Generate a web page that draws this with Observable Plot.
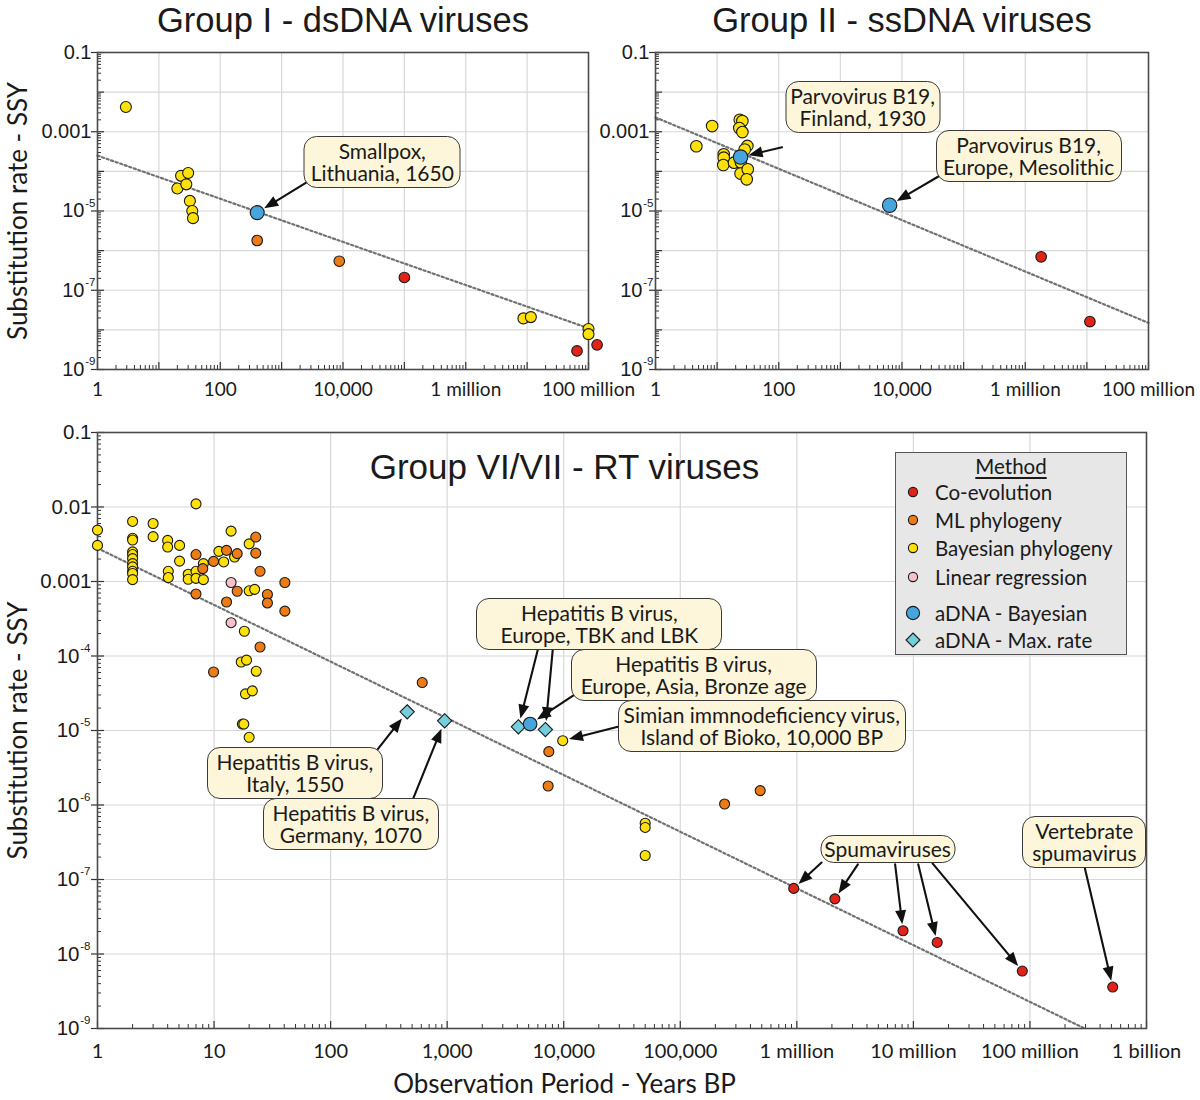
<!DOCTYPE html>
<html>
<head>
<meta charset="utf-8">
<script src="https://cdn.jsdelivr.net/npm/d3@7"></script>
<script src="https://cdn.jsdelivr.net/npm/@observablehq/plot@0.6"></script>
<style>
  body { margin: 0; background: #fff; }
  #wrap { position: relative; width: 1200px; height: 1100px; overflow: hidden; font-family: Lato, "Open Sans", sans-serif; color: #1a1a1a; background: #fff; }
  .panel { position: absolute; }
  .panel svg { overflow: visible; display: block; }
  .note { position: absolute; transform: translate(-50%, -50%); background: #fdf6da; border: 1.3px solid #3a3a3a; border-radius: 13px;
          box-sizing: border-box; display: flex; align-items: center; justify-content: center;
          font-family: Lato, sans-serif; font-size: 21px; line-height: 22px; text-align: center; white-space: pre; color: #1a1a1a; }
  #legend { position: absolute; left: 895px; top: 452px; width: 232px; height: 203px; box-sizing: border-box; background: #e7e7e7; border: 1.5px solid #555; }
  #legend .row { position: absolute; left: 0; height: 22px; line-height: 22px; font-size: 20.5px; font-family: Lato, sans-serif; white-space: nowrap; }
  #legend .ttl { position: absolute; left: 0; width: 100%; text-align: center; font-size: 20.5px; line-height: 22px; text-decoration: underline; text-underline-offset: 3px; }
  #legend svg { position: absolute; left: 8px; top: 2px; }
  #legend .lbl { position: absolute; left: 39px; top: 0; }
</style>
</head>
<body>
<div id="wrap"></div>
<script>
// ---------------- data ----------------
const methodColors = { co: "#e02419", ml: "#ee7c16", bayes: "#fee10a", linreg: "#f8c0cb", adnaBayes: "#45a5dc", adnaMax: "#75cedb" };
const legendKeys = ["co", "ml", "bayes", "linreg", "adnaBayes", "adnaMax"];
const legendLabels = ["Co-evolution", "ML phylogeny", "Bayesian phylogeny", "Linear regression", "aDNA - Bayesian", "aDNA - Max. rate"];

// Group I - dsDNA viruses
const g1Period = [2.9, 23, 30, 20, 28, 32, 35, 36, 8.7e6, 1.15e7, 1.0e8, 1.0e8, 400, 8700, 1.0e5, 6.5e7, 1.38e8, 400];
const g1Rate   = [4.2e-3, 7.7e-5, 9.1e-5, 3.7e-5, 4.7e-5, 1.8e-5, 1.0e-5, 6.6e-6, 1.95e-8, 2.1e-8, 1.05e-8, 7.8e-9, 1.8e-6, 5.4e-7, 2.1e-7, 2.95e-9, 4.2e-9, 9.1e-6];
const g1Method = ["bayes","bayes","bayes","bayes","bayes","bayes","bayes","bayes","bayes","bayes","bayes","bayes","ml","ml","co","co","co","adnaBayes"];
const g1TrendPeriod = [1, 1e8];
const g1TrendRate = [2.5e-4, 1.1e-8];
const g1NoteText = ["Smallpox,\nLithuania, 1650"];
const g1NotePeriod = [44460];
const g1NoteRate = [1.71e-4];
const g1ArrowFromPeriod = [2630];
const g1ArrowFromRate = [5.41e-5];
const g1ArrowToPeriod = [400];
const g1ArrowToRate = [9.1e-6];

// Group II - ssDNA viruses
const g2Period = [4.6, 8.3, 12.8, 12.8, 12.6, 18.8, 23.3, 25.7, 22.9, 25.7, 30.9, 28, 24.3, 24, 31.4, 30.2, 1.81e6, 1.12e7, 24, 6300];
const g2Rate   = [4.3e-4, 1.39e-3, 2.7e-4, 2.22e-4, 1.45e-4, 1.66e-4, 2.01e-3, 1.86e-3, 1.24e-3, 9.8e-4, 4.4e-4, 3.55e-4, 1.7e-4, 8.8e-5, 1.13e-4, 6.3e-5, 6.98e-7, 1.62e-8, 2.3e-4, 1.4e-5];
const g2Method = ["bayes","bayes","bayes","bayes","bayes","bayes","bayes","bayes","bayes","bayes","bayes","bayes","bayes","bayes","bayes","bayes","co","co","adnaBayes","adnaBayes"];
const g2TrendPeriod = [1, 1e8];
const g2TrendRate = [2.3e-3, 1.5e-8];
const g2NoteText = ["Parvovirus B19,\nFinland, 1930", "Parvovirus B19,\nEurope, Mesolithic"];
const g2NotePeriod = [2339, 1.156e6];
const g2NoteRate = [4.0e-3, 2.31e-4];
const g2ArrowFromPeriod = [113, 39540];
const g2ArrowFromRate = [4.05e-4, 7.53e-5];
const g2ArrowToPeriod = [24, 6300];
const g2ArrowToRate = [2.3e-4, 1.4e-5];

// Group VI/VII - RT viruses
const rtPeriod = [
  1, 1, 2, 2, 2, 2, 2, 2, 2, 2, 2, 2, 2, 3, 3, 4, 4, 4.05, 4.05, 5.06, 5.06, 6, 6, 7, 7, 7, 8.1, 8.1,
  11, 12.1, 14, 15, 18.2, 17.1, 19, 18.6, 21.3, 17.5, 18, 20, 20, 20, 22.3, 23, 9800, 50000, 50000, 50000,
  7, 7, 8, 9.9, 9.9, 12.8, 12.8, 15.8, 15.8, 22.8, 22.8, 24.8, 24.8, 28.7, 28.7, 40.5, 40.5, 611, 7450, 7350, 2.4e5, 4.85e5,
  14, 14,
  9.4e5, 2.12e6, 8.15e6, 1.6e7, 8.6e7, 5.13e8,
  454, 951, 4080, 6960,
  5150
];
const rtRate = [
  4.9e-3, 3.05e-3, 6.4e-3, 3.8e-3, 3.6e-3, 2.5e-3, 2.3e-3, 2.03e-3, 1.74e-3, 1.57e-3, 1.37e-3, 1.28e-3, 1.06e-3, 6.0e-3, 4.0e-3, 3.56e-3, 2.9e-3, 1.37e-3, 1.13e-3, 3.05e-3, 1.88e-3, 1.25e-3, 1.07e-3, 0.011, 1.37e-3, 1.1e-3, 1.74e-3, 1.06e-3,
  2.54e-3, 1.83e-3, 4.75e-3, 2.13e-3, 2.15e-4, 8.3e-5, 8.8e-5, 3.1e-5, 3.4e-5, 1.22e-5, 1.22e-5, 8.1e-6, 3.2e-3, 7.5e-4, 7.85e-4, 6.25e-5, 7.3e-6, 5.7e-7, 5.0e-7, 2.1e-7,
  2.3e-3, 6.8e-4, 1.49e-3, 1.86e-3, 6.1e-5, 2.62e-3, 5.3e-4, 2.37e-3, 7.4e-4, 3.95e-3, 2.4e-3, 1.37e-3, 1.32e-4, 6.7e-4, 5.15e-4, 9.7e-4, 4.0e-4, 4.4e-5, 5.2e-6, 1.8e-6, 1.03e-6, 1.56e-6,
  9.7e-4, 2.8e-4,
  7.6e-8, 5.5e-8, 2.05e-8, 1.43e-8, 5.9e-9, 3.6e-9,
  1.78e-5, 1.35e-5, 1.12e-5, 1.03e-5,
  1.22e-5
];
const rtMethod = [
  ...Array(48).fill("bayes"),
  ...Array(22).fill("ml"),
  "linreg", "linreg",
  "co", "co", "co", "co", "co", "co",
  "adnaMax", "adnaMax", "adnaMax", "adnaMax",
  "adnaBayes"
];
const rtTrendPeriod = [1, 2.95e8];
const rtTrendRate = [2.8e-3, 1e-9];
const rtNoteText = [
  "Hepatitis B virus,\nItaly, 1550",
  "Hepatitis B virus,\nGermany, 1070",
  "Hepatitis B virus,\nEurope, TBK and LBK",
  "Hepatitis B virus,\nEurope, Asia, Bronze age",
  "Simian immnodeficiency virus,\nIsland of Bioko, 10,000 BP",
  "Spumaviruses",
  "Vertebrate\nspumavirus"
];
const rtNotePeriod = [49.9, 150.7, 20420, 1.315e5, 5.05e5, 6.07e6, 2.96e8];
const rtNoteRate = [2.62e-6, 5.48e-7, 2.65e-4, 5.44e-5, 1.13e-5, 2.56e-7, 3.11e-7];
const rtArrowFromPeriod = [253, 512, 5984, 8054, 12220, 29170, 1.63e6, 3.34e6, 6.97e6, 1.1e7, 1.46e7, 2.96e8];
const rtArrowFromRate   = [5.58e-6, 1.23e-6, 1.2e-4, 1.23e-4, 2.99e-5, 1.12e-5, 1.69e-7, 1.6e-7, 1.6e-7, 1.6e-7, 1.65e-7, 1.42e-7];
const rtArrowToPeriod   = [454, 951, 4080, 6960, 5150, 9800, 9.4e5, 2.12e6, 8.15e6, 1.6e7, 8.6e7, 5.13e8];
const rtArrowToRate     = [1.78e-5, 1.35e-5, 1.12e-5, 1.03e-5, 1.22e-5, 7.3e-6, 7.6e-8, 5.5e-8, 2.05e-8, 1.43e-8, 5.9e-9, 3.6e-9];

// tick labels
const topXTicks = [1, 100, 1e4, 1e6, 1e8];
const topXLabels = ["1", "100", "10,000", "1 million", "100 million"];
const topYPlain = [0.1, 0.001];
const topYPlainLabels = ["0.1", "0.001"];
const topYPow = [1e-5, 1e-7, 1e-9];
const topYPowExp = ["-5", "-7", "-9"];
const rtXTicks = [1, 10, 100, 1e3, 1e4, 1e5, 1e6, 1e7, 1e8, 1e9];
const rtXLabels = ["1", "10", "100", "1,000", "10,000", "100,000", "1 million", "10 million", "100 million", "1 billion"];
const rtYPlain = [0.1, 0.01, 0.001];
const rtYPlainLabels = ["0.1", "0.01", "0.001"];
const rtYPow = [1e-4, 1e-5, 1e-6, 1e-7, 1e-8, 1e-9];
const rtYPowExp = ["-4", "-5", "-6", "-7", "-8", "-9"];

// ---------------- helpers ----------------
const SANS = '"Liberation Sans", Arial, sans-serif';
const HUM = 'Lato, "Open Sans", sans-serif';
const headInset = { co: 6.5, ml: 6.5, bayes: 6.5, linreg: 6.5, adnaBayes: 8.2, adnaMax: 8.5 };
const drawOrder = ["bayes", "ml", "linreg", "co", "adnaMax", "adnaBayes"];
const HEAD_L = 14, HEAD_W = 5.5;

function decades(lo, hi) { const o = []; for (let e = lo; e <= hi; e++) o.push(Math.pow(10, e)); return o; }
function minors(lo, hi) { const o = []; for (let e = lo; e < hi; e++) for (let k = 2; k <= 9; k++) o.push(k * Math.pow(10, e)); return o; }
function headSymbol(inset, L = HEAD_L, w = HEAD_W) {
  return { draw(ctx) { ctx.moveTo(0, inset); ctx.lineTo(w, inset + L); ctx.lineTo(-w, inset + L); ctx.closePath(); } };
}

function buildPanel(p) {
  const xs = d3.scaleLog(p.xDomain, [p.ml, p.width - p.mr]);
  const ys = d3.scaleLog(p.yDomain, [p.height - p.mb, p.mt]);
  const pw = p.width - p.ml - p.mr, ph = p.height - p.mt - p.mb;
  const lx = [Math.round(Math.log10(p.xDomain[0])), Math.round(Math.log10(p.xDomain[1]))];
  const ly = [Math.round(Math.log10(p.yDomain[0])), Math.round(Math.log10(p.yDomain[1]))];
  const gridX = decades(lx[0] + 1, lx[1] - 1), gridY = decades(ly[0] + 1, ly[1] - 1);

  const rows = p.period.map((v, i) => ({ period: v, rate: p.rate[i], method: p.method[i] }));
  const trend = p.trendPeriod.map((v, i) => ({ period: v, rate: p.trendRate[i] }));
  const arrows = p.arrowFromPeriod.map((v, i) => {
    const a = { x1: v, y1: p.arrowFromRate[i], x2: p.arrowToPeriod[i], y2: p.arrowToRate[i] };
    const hit = rows.find(r => r.period === a.x2 && r.rate === a.y2);
    a.inset = headInset[hit ? hit.method : "co"];
    const dx = xs(a.x2) - xs(a.x1), dy = ys(a.y2) - ys(a.y1);
    a.angle = Math.atan2(dx, -dy) * 180 / Math.PI;
    return a;
  });

  const marks = [
    Plot.ruleX(gridX, { stroke: "#d8d8d8", strokeWidth: 1.2 }),
    Plot.ruleY(gridY, { stroke: "#d8d8d8", strokeWidth: 1.2 }),
    Plot.line(trend, { x: "period", y: "rate", stroke: "#727272", strokeWidth: 2.2, strokeDasharray: "2.2,2.6" }),
    Plot.tickY(minors(ly[0], ly[1]), { stroke: "#333", strokeWidth: 1, insetRight: pw - 4 }),
    Plot.tickY(decades(ly[0], ly[1]), { stroke: "#333", strokeWidth: 1.2, insetRight: pw - 7 }),
    Plot.tickY(p.yPlain.concat(p.yPow), { stroke: "#333", strokeWidth: 1.2, insetRight: pw - 6, dx: -6 }),
    Plot.tickX(minors(lx[0], lx[1]), { stroke: "#333", strokeWidth: 1, insetTop: ph - 4 }),
    Plot.tickX(decades(lx[0], lx[1]), { stroke: "#333", strokeWidth: 1.2, insetTop: ph - 7 }),
    Plot.frame({ stroke: "#4a4a4a", strokeWidth: 1.6 })
  ];
  const insets = [...new Set(arrows.map(a => a.inset))];
  for (const ins of insets) {
    const sub = arrows.filter(a => a.inset === ins);
    marks.push(Plot.arrow(sub, { x1: "x1", y1: "y1", x2: "x2", y2: "y2", stroke: "#111", strokeWidth: 2.1, headLength: 0, insetEnd: ins + HEAD_L - 2 }));
  }
  for (const m of drawOrder) {
    const sub = rows.filter(r => r.method === m);
    if (!sub.length) continue;
    marks.push(Plot.dot(sub, { x: "period", y: "rate", r: p.radius[m], fill: methodColors[m], stroke: "#1a1a1a", strokeWidth: 1.1,
      symbol: m === "adnaMax" ? "diamond2" : "circle" }));
  }
  for (const ins of insets) {
    const sub = arrows.filter(a => a.inset === ins);
    marks.push(Plot.dot(sub, { x: "x2", y: "y2", symbol: headSymbol(ins), rotate: "angle", fill: "#111", stroke: "none", r: 3 }));
  }
  marks.push(
    Plot.text(p.xTicks, { x: d => d, text: (d, i) => p.xLabels[i], frameAnchor: "bottom", lineAnchor: "top", dy: p.xLabelDy,
      fontSize: p.xFont, fontFamily: HUM, fill: "#1a1a1a" }),
    Plot.text(p.yPlain, { y: d => d, text: (d, i) => p.yPlainLabels[i], frameAnchor: "left", textAnchor: "end", dx: -6,
      fontSize: p.yFont, fontFamily: SANS, fill: "#1a1a1a" }),
    Plot.text(p.yPow, { y: d => d, text: d => "10", frameAnchor: "left", textAnchor: "end", dx: p.tenDx,
      fontSize: p.yFont, fontFamily: SANS, fill: "#1a1a1a" }),
    Plot.text(p.yPow, { y: d => d, text: (d, i) => p.yPowExp[i], frameAnchor: "left", textAnchor: "end", dx: p.expDx, dy: -8,
      fontSize: 11.5, fontFamily: SANS, fill: "#1a1a1a" })
  );
  if (p.title) marks.push(Plot.text([p.title], { text: d => d, frameAnchor: p.titleAnchor, dx: p.titleDx, dy: p.titleDy,
      lineAnchor: "bottom", textAnchor: "middle", fontSize: p.titleFont, fontFamily: SANS, fill: "#1a1a1a" }));
  if (p.yTitle) marks.push(Plot.text([p.yTitle], { text: d => d, frameAnchor: "left", dx: -71, rotate: -90,
      lineAnchor: "bottom", textAnchor: "middle", fontSize: 26, fontFamily: HUM, fill: "#1a1a1a" }));
  if (p.xTitle) marks.push(Plot.text([p.xTitle], { text: d => d, frameAnchor: "bottom-left", dx: p.xTitleDx, dy: p.xTitleDy,
      lineAnchor: "bottom", textAnchor: "middle", fontSize: 26, fontFamily: HUM, fill: "#1a1a1a" }));

  const chart = Plot.plot({
    width: p.width, height: p.height,
    marginLeft: p.ml, marginRight: p.mr, marginTop: p.mt, marginBottom: p.mb,
    x: { type: "log", domain: p.xDomain, axis: null },
    y: { type: "log", domain: p.yDomain, axis: null },
    style: { background: "none", overflow: "visible", maxWidth: "none" },
    marks
  });
  const holder = document.createElement("div");
  holder.className = "panel";
  holder.style.left = p.left + "px"; holder.style.top = p.top + "px";
  holder.appendChild(chart);
  document.getElementById("wrap").appendChild(holder);

  p.noteText.forEach((t, i) => {
    const d = document.createElement("div");
    d.className = "note";
    d.textContent = t;
    d.style.width = p.noteW[i] + "px";
    d.style.height = (t.includes("\n") ? 52 : 28) + "px";
    d.style.left = (p.left + xs(p.notePeriod[i])) + "px";
    d.style.top = (p.top + ys(p.noteRate[i])) + "px";
    document.getElementById("wrap").appendChild(d);
  });
}

const common = { xDomain: [1, 1e8], yDomain: [1e-9, 0.1],
  xTicks: topXTicks, xLabels: topXLabels, yPlain: topYPlain, yPlainLabels: topYPlainLabels, yPow: topYPow, yPowExp: topYPowExp,
  xFont: 19, yFont: 20, xLabelDy: 13, tenDx: -13, expDx: -2, titleAnchor: "top", titleDx: 0, titleDy: -21, titleFont: 34.5 };

const panelB = Object.assign({}, common, {
  left: 600, top: 0, width: 600, height: 400, ml: 55, mr: 52, mt: 52, mb: 31,
  radius: { co: 5.3, bayes: 5.8, adnaBayes: 7.2 },
  period: g2Period, rate: g2Rate, method: g2Method, trendPeriod: g2TrendPeriod, trendRate: g2TrendRate,
  noteText: g2NoteText, notePeriod: g2NotePeriod, noteRate: g2NoteRate, noteW: [155, 186],
  arrowFromPeriod: g2ArrowFromPeriod, arrowFromRate: g2ArrowFromRate, arrowToPeriod: g2ArrowToPeriod, arrowToRate: g2ArrowToRate,
  title: "Group II - ssDNA viruses"
});
const panelA = Object.assign({}, common, {
  left: 0, top: 0, width: 640, height: 400, ml: 97, mr: 52, mt: 52, mb: 31,
  radius: { co: 5.3, ml: 5.3, bayes: 5.5, adnaBayes: 7.0 },
  period: g1Period, rate: g1Rate, method: g1Method, trendPeriod: g1TrendPeriod, trendRate: g1TrendRate,
  noteText: g1NoteText, notePeriod: g1NotePeriod, noteRate: g1NoteRate, noteW: [157],
  arrowFromPeriod: g1ArrowFromPeriod, arrowFromRate: g1ArrowFromRate, arrowToPeriod: g1ArrowToPeriod, arrowToRate: g1ArrowToRate,
  title: "Group I - dsDNA viruses",
  yTitle: "Substitution rate - SSY"
});
const panelC = {
  left: 0, top: 400, width: 1200, height: 700, ml: 97, mr: 54, mt: 32, mb: 72,
  xDomain: [1, 1e9], yDomain: [1e-9, 0.1],
  radius: { co: 5, ml: 5, bayes: 5, linreg: 5, adnaBayes: 6.8, adnaMax: 6.4 },
  period: rtPeriod, rate: rtRate, method: rtMethod, trendPeriod: rtTrendPeriod, trendRate: rtTrendRate,
  noteText: rtNoteText, notePeriod: rtNotePeriod, noteRate: rtNoteRate, noteW: [176, 176, 246, 246, 288, 135, 124],
  arrowFromPeriod: rtArrowFromPeriod, arrowFromRate: rtArrowFromRate, arrowToPeriod: rtArrowToPeriod, arrowToRate: rtArrowToRate,
  xTicks: rtXTicks, xLabels: rtXLabels, yPlain: rtYPlain, yPlainLabels: rtYPlainLabels, yPow: rtYPow, yPowExp: rtYPowExp,
  xFont: 20, yFont: 20.5, xLabelDy: 15, tenDx: -18, expDx: -7,
  title: "Group VI/VII - RT viruses", titleAnchor: "top-left", titleDx: 467, titleDy: 46, titleFont: 35,
  yTitle: "Substitution rate - SSY",
  xTitle: "Observation Period - Years BP", xTitleDx: 467, xTitleDy: 64
};

buildPanel(panelC);
buildPanel(panelB);
buildPanel(panelA);

// legend
(function () {
  const lg = document.createElement("div");
  lg.id = "legend";
  const t = document.createElement("div");
  t.className = "ttl"; t.textContent = "Method"; t.style.top = (13 - 11) + "px";
  lg.appendChild(t);
  const centers = [40, 68.5, 96.5, 125, 161, 188];
  legendKeys.forEach((k, i) => {
    const row = document.createElement("div");
    row.className = "row";
    row.style.top = (centers[i] - 11 - 1.5) + "px";
    const r = k === "adnaBayes" ? 6.6 : 4.6;
    let shape;
    if (k === "adnaMax") shape = `<path d="M9,2 L16,9 L9,16 L2,9 Z" fill="${methodColors[k]}" stroke="#1a1a1a" stroke-width="1.1"/>`;
    else shape = `<circle cx="9" cy="9" r="${r}" fill="${methodColors[k]}" stroke="#1a1a1a" stroke-width="1.1"/>`;
    row.innerHTML = `<svg width="18" height="18" viewBox="0 0 18 18">${shape}</svg><span class="lbl">${legendLabels[i]}</span>`;
    lg.appendChild(row);
  });
  document.getElementById("wrap").appendChild(lg);
})();
</script>
</body>
</html>
